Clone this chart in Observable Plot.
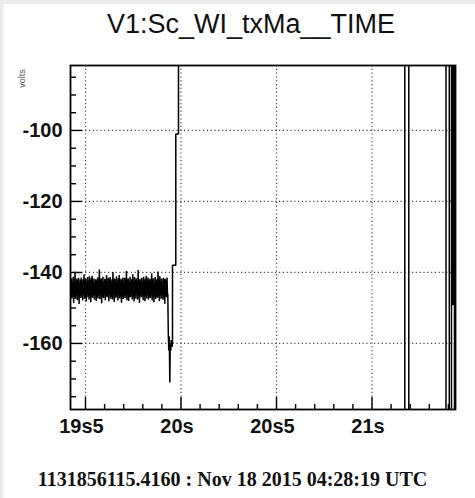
<!DOCTYPE html>
<html>
<head>
<meta charset="utf-8">
<script src="https://cdn.jsdelivr.net/npm/d3@7"></script>
<script src="https://cdn.jsdelivr.net/npm/@observablehq/plot@0.6"></script>
<style>
  html, body { margin: 0; padding: 0; background: #fff; }
  #wrap { position: relative; width: 475px; height: 498px; background: #fff; overflow: hidden; }
  #stripTop { position: absolute; left: 0; top: 0; width: 475px; height: 4px; background: #ececec; }
  #stripLeft { position: absolute; left: 0; top: 0; width: 3px; height: 498px; background: #ececec; }
  #title { position: absolute; left: 27px; top: 11px; width: 448px; text-align: center;
           font: 27px/27px "Liberation Sans", Arial, sans-serif; color: #111; }
  #ylab { position: absolute; left: 13px; top: 74px; font: 9px/9px "Liberation Sans", Arial, sans-serif;
          color: #555; transform: rotate(-90deg); transform-origin: center; }
  #chart { position: absolute; left: 0; top: 50px; }
  #caption { position: absolute; left: 0; top: 469px; width: 465px; text-align: center;
             font: bold 20px/20px "Liberation Serif", "Times New Roman", serif; color: #111; }
</style>
</head>
<body>
<div id="wrap">
  <div id="stripTop"></div>
  <div id="stripLeft"></div>
  <div id="title">V1:Sc_WI_txMa__TIME</div>
  <div id="ylab">volts</div>
  <div id="chart"></div>
  <div id="caption">1131856115.4160 : Nov 18 2015 04:28:19 UTC</div>
</div>
<script>
// ---- data ----
const xMajor = [19.5, 20, 20.5, 21];
const xLabels = ["19s5", "20s", "20s5", "21s"];
const xMinor = [19.6, 19.7, 19.8, 19.9, 20.1, 20.2, 20.3, 20.4, 20.6, 20.7, 20.8, 20.9, 21.1, 21.2, 21.3, 21.4];
const yMajor = [-100, -120, -140, -160];
const yMinor = [-85, -90, -95, -105, -110, -115, -125, -130, -135, -145, -150, -155, -165, -170, -175];
const xDomain = [19.4215, 21.4372];
const yDomain = [-178.6, -81.7];

// noise band samples (volts), uniformly sampled between noiseStart and noiseEnd
const noiseStart = 19.4215, noiseEnd = 19.9293;
const noiseValues = [
  -142.1,-146.8,-141.6,-147.3,-142.8,-146.1,-141.2,-148.6,-142.4,-146.9,-139.8,-147.5,-142.9,-146.3,-141.7,-147.8,-142.2,-145.9,-141.5,-148.9,
  -143.0,-146.6,-142.0,-147.2,-141.4,-146.4,-142.6,-147.9,-141.9,-146.0,-140.6,-147.4,-142.3,-146.7,-141.8,-148.2,-142.7,-146.2,-141.3,-147.0,
  -142.5,-147.6,-141.1,-146.5,-142.0,-148.4,-141.6,-146.8,-140.9,-147.1,-142.4,-146.3,-141.7,-147.7,-143.1,-146.1,-141.9,-148.0,-142.2,-146.9,
  -141.4,-147.3,-142.8,-146.4,-139.2,-147.5,-142.1,-146.0,-141.6,-148.7,-142.5,-146.6,-141.2,-147.2,-142.9,-146.2,-141.8,-147.8,-142.3,-146.7,
  -140.8,-147.0,-142.6,-146.5,-141.5,-148.1,-142.0,-146.3,-141.3,-147.4,-142.7,-146.8,-141.9,-147.6,-139.9,-146.1,-142.4,-148.3,-141.7,-146.9,
  -142.2,-147.1,-141.1,-146.4,-142.8,-147.9,-141.6,-146.0,-140.7,-147.3,-142.5,-146.6,-141.8,-148.5,-142.1,-146.2,-141.4,-147.5,-142.9,-146.7,
  -141.5,-147.2,-142.3,-146.3,-139.6,-147.8,-142.0,-146.5,-141.7,-148.0,-142.6,-146.9,-141.2,-147.0,-142.4,-146.1,-141.9,-147.6,-140.5,-146.8,
  -142.7,-148.2,-141.3,-146.4,-142.2,-147.4,-141.6,-146.0,-142.8,-147.7,-139.3,-146.6,-142.1,-148.6,-141.8,-146.3,
  -142.4,-147.0,-141.5,-146.5,-142.9,-147.8,-141.2,-146.2,-142.3,-148.1,-141.7,-146.7,-140.9,-147.3,-142.6,-146.0,-141.4,-147.6,-142.1,-146.9,
  -141.8,-147.2,-142.5,-146.4,-140.2,-147.9,-142.0,-146.6,-141.6,-148.4,-142.8,-146.1,-141.3,-147.5,-142.2,-146.8,-141.9,-147.1,-139.7,-146.3,
  -142.6,-148.0,-141.1,-146.5,-142.4,-147.4,-141.7,-146.2,-142.9,-147.7,-141.5,-146.9,-142.0,-148.8,-141.8,-146.4,-142.3,-147.0,-141.4,-146.6
];

// transient and off-scale part (times in s, values in volts; +/-1000 = off scale)
const tailTimes = [19.9309, 19.9335, 19.9361, 19.9387, 19.9414, 19.9440, 19.9466, 19.9492, 19.9529, 19.9555,
  19.9555, 19.9728, 19.9728, 19.9869, 19.9869, 21.1717, 21.1717, 21.1927, 21.1927, 21.3874, 21.3874,
  21.4047, 21.4047, 21.4162, 21.4162, 21.4319, 21.4319, 21.4215, 21.4215, 21.4267, 21.4267];
const tailValues = [-146, -157, -162, -158, -171, -160, -162, -159, -161, -160,
  -138, -138, -101, -101, 1000, 1000, -1000, -1000, 1000, 1000, -1000,
  -1000, 1000, 1000, -1000, -1000, 1000, 1000, -149, -149, 1000];

// ---- build table ----
const n = noiseValues.length;
const series = noiseValues.map((v, i) => ({t: noiseStart + (noiseEnd - noiseStart) * i / (n - 1), v}))
  .concat(tailTimes.map((t, i) => ({t, v: tailValues[i]})));

const W = 475, H = 390, mL = 70, mR = 20, mT = 15, mB = 31;
const fw = W - mL - mR, fh = H - mT - mB;

const chart = Plot.plot({
  width: W, height: H,
  marginLeft: mL, marginRight: mR, marginTop: mT, marginBottom: mB,
  style: {fontFamily: "'Liberation Sans', Arial, sans-serif", background: "transparent", color: "#111"},
  x: {domain: xDomain, label: null},
  y: {domain: yDomain, label: null},
  marks: [
    Plot.gridX(xMajor, {stroke: "#333", strokeOpacity: 0.9, strokeDasharray: "1.2,2.6", strokeWidth: 1.2}),
    Plot.gridY(yMajor, {stroke: "#333", strokeOpacity: 0.9, strokeDasharray: "1.2,2.6", strokeWidth: 1.2}),
    Plot.tickX(xMajor, {x: d => d, insetTop: fh - 12, stroke: "#000", strokeWidth: 1.4}),
    Plot.tickX(xMinor, {x: d => d, insetTop: fh - 5, stroke: "#000", strokeWidth: 1.4}),
    Plot.tickY(yMajor, {y: d => d, insetRight: fw - 12, stroke: "#000", strokeWidth: 1.4}),
    Plot.tickY(yMinor, {y: d => d, insetRight: fw - 6, stroke: "#000", strokeWidth: 1.4}),
    Plot.line(series, {x: "t", y: "v", stroke: "#000", strokeWidth: 1.5, strokeLinejoin: "miter", clip: true}),
    Plot.frame({stroke: "#000", strokeWidth: 1.8}),
    Plot.axisX(xMajor, {tickSize: 0, tickPadding: 9, dx: -4, fontSize: 20, fontWeight: "bold",
      tickFormat: d => xLabels[xMajor.indexOf(d)], label: null}),
    Plot.axisY(yMajor, {tickSize: 0, tickPadding: 8, fontSize: 20, fontWeight: "bold",
      tickFormat: d => String(d), label: null})
  ]
});
document.getElementById("chart").appendChild(chart);
</script>
</body>
</html>
